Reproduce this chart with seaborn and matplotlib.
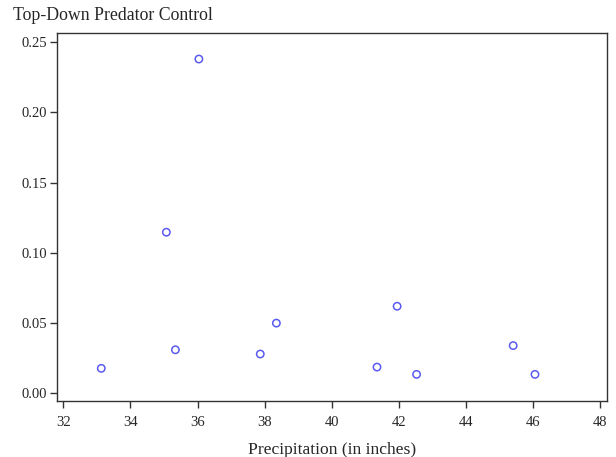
import matplotlib
matplotlib.use("Agg")
import matplotlib.pyplot as plt
import numpy as np
import pandas as pd
import seaborn as sns

# precipitation (inches) vs top-down predator control
precip = [33.13, 35.07, 36.04, 35.34, 37.87, 38.35, 41.35, 41.95, 42.53, 45.41, 46.06]
control = [0.0178, 0.1147, 0.238, 0.031, 0.028, 0.050, 0.0187, 0.062, 0.0135, 0.034, 0.0135]
xticks = np.arange(32, 49, 2)
yticks = [0.00, 0.05, 0.10, 0.15, 0.20, 0.25]

df = pd.DataFrame({"precip": precip, "control": control})

sns.set_style("ticks")
plt.rcParams['font.family'] = ['Liberation Serif', 'DejaVu Serif']

fig = plt.figure(figsize=(6.16, 4.57), dpi=100)
ax = fig.add_axes([0.092, 0.123, 0.893, 0.805])

sns.scatterplot(data=df, x="precip", y="control", ax=ax,
                facecolors="none", edgecolor="#5a5af0", linewidth=1.1, s=28,
                marker="o")

ax.set_xlim(31.8, 48.2)
ax.set_ylim(-0.0053, 0.2566)
ax.set_xticks(xticks)
ax.set_xticklabels([str(t) for t in xticks])
ax.set_yticks(yticks)
ax.set_yticklabels([f"{t:.2f}" for t in yticks])
ax.tick_params(direction="out", length=5, width=1, labelsize=10.5, color="#333333")
ax.tick_params(axis="x", pad=6)
ax.tick_params(axis="y", pad=2)
for sp in ax.spines.values():
    sp.set_visible(True)
    sp.set_color("#333333")
    sp.set_linewidth(1)

ax.set_xlabel("Precipitation (in inches)", fontsize=12.6, labelpad=9)
ax.set_ylabel("")
fig.text(0.021, 0.965, "Top-Down Predator Control", fontsize=12.8, va="center", ha="left")

fig.savefig("out.png", dpi=100)
